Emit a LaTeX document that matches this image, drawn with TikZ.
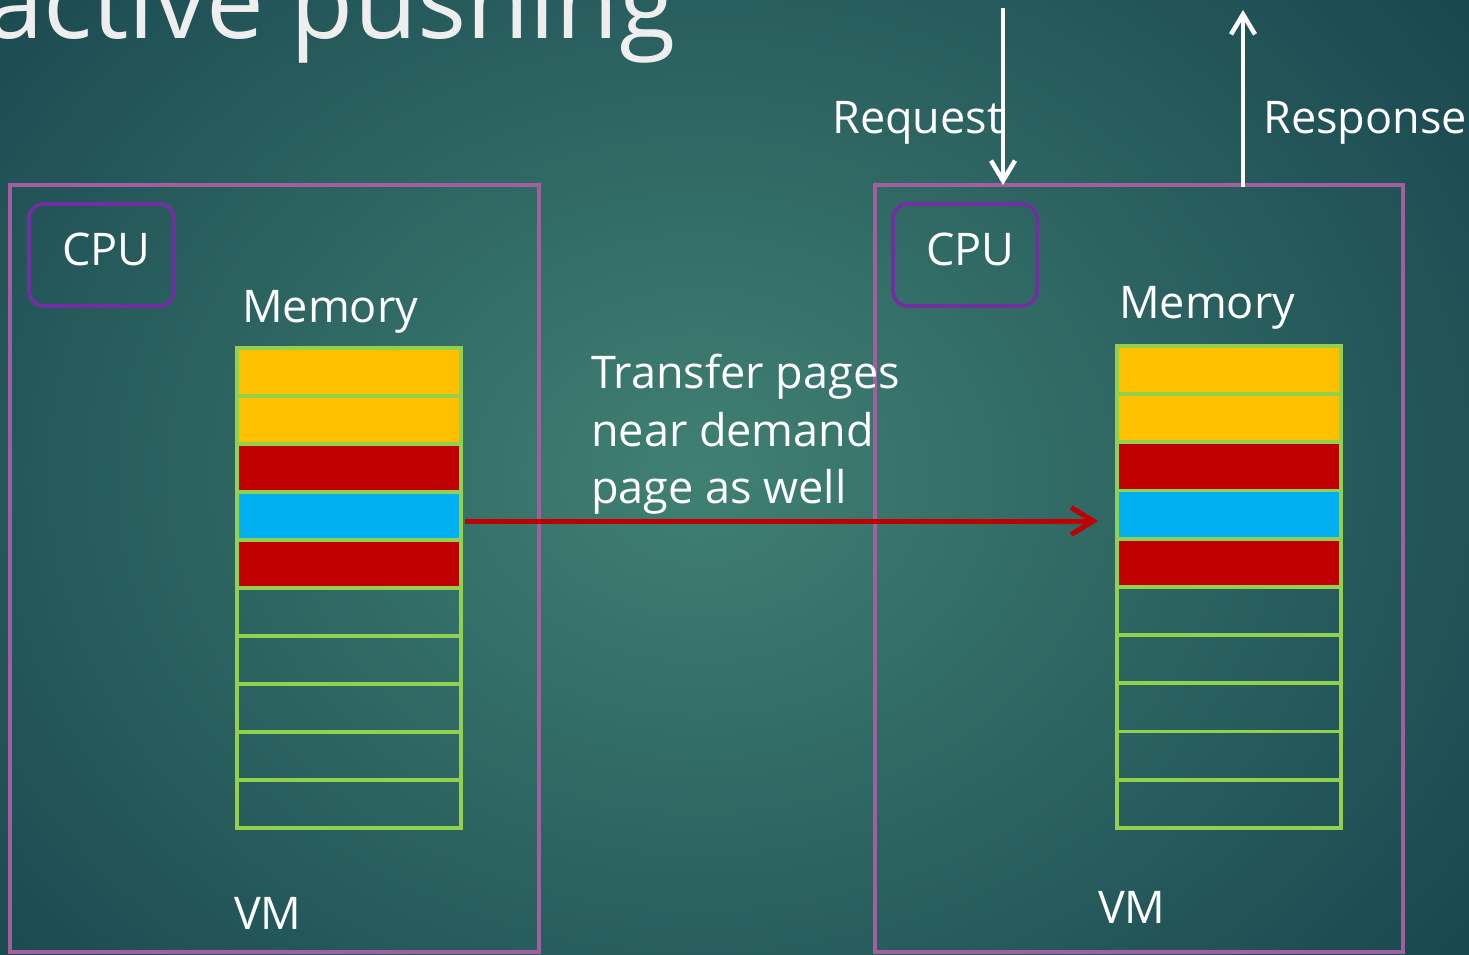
\documentclass[tikz,border=0pt]{standalone}
\usepackage{fontspec}
\setmainfont{Open Sans}
\usetikzlibrary{arrows.meta}
\definecolor{bgin}{RGB}{64,128,115}
\definecolor{bgout}{RGB}{26,72,80}
\definecolor{vmcol}{RGB}{160,96,160}
\definecolor{cpucol}{RGB}{112,48,160}
\definecolor{cellgreen}{RGB}{146,208,80}
\definecolor{pyellow}{RGB}{255,192,0}
\definecolor{pred}{RGB}{192,0,0}
\definecolor{pblue}{RGB}{0,176,240}
\definecolor{titlecol}{RGB}{238,238,238}
\tikzset{
  vmbox/.style={draw=vmcol, line width=3.2pt},
  cpubox/.style={draw=cpucol, line width=3.8pt, rounded corners=15pt},
  cell/.style={draw=cellgreen, line width=3.8pt},
  lbl/.style={text=white, font=\fontsize{45}{55}\selectfont, inner sep=0pt, anchor=base west},
  wharrow/.style={draw=white, line width=4.5pt, -{Straight Barb[length=20pt,width=24pt]}},
  redarrow/.style={draw=pred, line width=5pt, -{Straight Barb[length=22pt,width=27pt]}}
}
\begin{document}
\begin{tikzpicture}[x=1pt,y=-1pt]
\useasboundingbox (0,0) rectangle (1469,954);
\clip (0,0) rectangle (1469,954);
\shade[inner color=bgin, outer color=bgout] (-250,-300) rectangle (1650,1250);
% title
\node[text=titlecol, font=\fontsize{103}{115}\selectfont, inner sep=0pt, anchor=base west] (title) at (-14,38) {active pushing};
% VM boxes
\draw[vmbox] (10,185) rectangle (539,952);
\draw[vmbox] (875,185) rectangle (1403,952);
\node[lbl] (vm1) at (234,929) {VM};
\node[lbl] (vm2) at (1098,923) {VM};
% CPU boxes
\node[cpubox, minimum width=145pt, minimum height=102pt, anchor=north west] (cpu1) at (27,202) {};
\node[cpubox, minimum width=144pt, minimum height=102pt, anchor=north west] (cpu2) at (891,202) {};
\node[lbl] (cpu1t) at (62,265) {CPU};
\node[lbl] (cpu2t) at (926,265) {CPU};
% Memory labels
\node[lbl] (mem1) at (242,322) {Memory};
\node[lbl] (mem2) at (1119,318) {Memory};
% memory stacks
\foreach \c [count=\i from 0] in {pyellow,pyellow,pred,pblue,pred,none,none,none,none,none}{
  \node[cell, fill=\c, minimum width=224pt, minimum height=48pt, anchor=north west, inner sep=0pt] (L\i) at (235,346+48*\i) {};
  \node[cell, fill=\c, minimum width=224pt, minimum height=48.2pt, anchor=north west, inner sep=0pt] (R\i) at (1115,344+48.2*\i) {};
}
% transfer text
\node[lbl] (t1) at (591,388) {Transfer pages};
\node[lbl] (t2) at (591,446) {near demand};
\node[lbl] (t3) at (591,503) {page as well};
% red arrow
\coordinate (rs) at (465,521);
\coordinate (re) at (1098,521);
\draw[redarrow] (rs) -- (re);
% request / response
\coordinate (rqs) at (1003,8);
\coordinate (rqe) at (1003,185);
\coordinate (rps) at (1243,187);
\coordinate (rpe) at (1243,10);
\draw[wharrow] (rqs) -- (rqe);
\draw[wharrow] (rps) -- (rpe);
\node[lbl] (req) at (832,133) {Request};
\node[lbl] (resp) at (1263,133) {Response};
\end{tikzpicture}
\end{document}
